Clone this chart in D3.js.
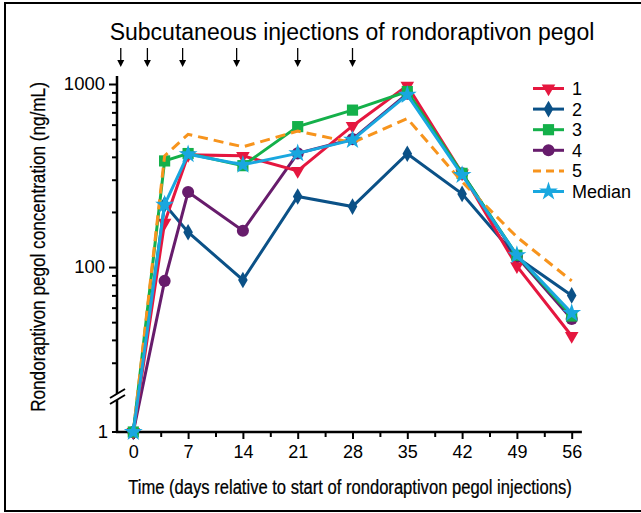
<!DOCTYPE html>
<html>
<head>
<meta charset="utf-8">
<script src="https://cdn.jsdelivr.net/npm/d3@7"></script>
<style>
  body { margin: 0; background: #fff; }
  svg { display: block; }
  .tick text { font-family: "Liberation Sans", Arial, sans-serif; }
</style>
</head>
<body>
<script>
// days of sampling
const days = [0, 4, 7, 14, 21, 28, 35, 42, 49, 56];

// rondoraptivon pegol concentration (ng/mL) per patient
const patient1 = [1, 175, 410, 405, 335, 590, 980, 325, 101, 42];
const patient2 = [1, 220, 155, 85, 243, 214, 416, 251, 113, 70];
const patient3 = [1, 380, 417, 358, 585, 720, 910, 325, 116, 54];
const patient4 = [1, 84, 257, 158, 418, 500, 885, 325, 114, 52];
const patient5 = [1, 405, 531, 454, 553, 478, 648, 292, 146, 84];
const median = [1, 219, 413, 362, 418, 495, 872, 318, 116, 56];

const seriesNames = ["1", "2", "3", "4", "5", "Median"];
const xTicks = [0, 7, 14, 21, 28, 35, 42, 49, 56];
const xMinorTicks = [3.5, 10.5, 17.5, 24.5, 31.5, 38.5, 45.5, 52.5];
const yMajorTicks = [100, 1000];
const yMinorTicks = [30, 40, 50, 60, 70, 80, 90, 200, 300, 400, 500, 600, 700, 800, 900];
const arrowDays = [-1.6, 1.8, 6.3, 13.2, 21, 28];

const width = 641;
const height = 513;

const series = [
  { name: "2", values: patient2, color: "#0b5187", symbol: d3.symbolDiamond, size: 80, rotate: 0, dash: null },
  { name: "4", values: patient4, color: "#671c6c", symbol: d3.symbolCircle, size: 115, rotate: 0, dash: null },
  { name: "1", values: patient1, color: "#e5173f", symbol: d3.symbolTriangle, size: 80, rotate: 180, dash: null },
  { name: "3", values: patient3, color: "#14b04a", symbol: d3.symbolSquare, size: 125, rotate: 0, dash: null },
  { name: "5", values: patient5, color: "#f7941d", symbol: null, size: 0, rotate: 0, dash: "10,6" },
  { name: "Median", values: median, color: "#19a7df", symbol: d3.symbolStar, size: 110, rotate: 0, dash: null },
];

const svg = d3
  .select("body")
  .append("svg")
  .attr("width", width)
  .attr("height", height);

// outer frame
svg
  .append("rect")
  .attr("x", 5)
  .attr("y", 3)
  .attr("width", 660)
  .attr("height", 508)
  .attr("fill", "none")
  .attr("stroke", "#000")
  .attr("stroke-width", 2);

const x = d3.scaleLinear().domain([0, 56]).range([133.3, 571.7]);
const yLog = d3.scaleLog().domain([19.5, 1120]).range([397, 75]);
const yZero = 432;
const y = (v) => (v <= 1 ? yZero : yLog(v));

const axisX = 117;

// title + injection arrows
svg
  .append("text")
  .attr("x", 352)
  .attr("y", 40)
  .attr("text-anchor", "middle")
  .attr("font-family", "Liberation Sans, Arial, sans-serif")
  .attr("font-size", 23)
  .text("Subcutaneous injections of rondoraptivon pegol");

const arrows = svg.append("g");
arrowDays.forEach((d) => {
  arrows
    .append("line")
    .attr("x1", x(d))
    .attr("x2", x(d))
    .attr("y1", 48)
    .attr("y2", 62)
    .attr("stroke", "#000")
    .attr("stroke-width", 1.3);
  arrows
    .append("path")
    .attr("d", `M${x(d) - 3.5},${60} L${x(d) + 3.5},${60} L${x(d)},${67} Z`)
    .attr("fill", "#000");
});

// y axis
const ga = svg.append("g");
ga.append("line")
  .attr("x1", axisX)
  .attr("x2", axisX)
  .attr("y1", 76)
  .attr("y2", yZero + 1)
  .attr("stroke", "#000")
  .attr("stroke-width", 2.5);

ga.append("g")
  .attr("transform", `translate(${axisX},0)`)
  .call(d3.axisLeft(yLog).tickValues(yMajorTicks).tickFormat(d3.format("d")).tickSize(8).tickPadding(4))
  .call((g) => g.select(".domain").remove())
  .call((g) => g.selectAll(".tick line").attr("stroke-width", 2))
  .call((g) => g.selectAll(".tick text").attr("font-size", 18.5).attr("fill", "#000"));

ga.append("g")
  .attr("transform", `translate(${axisX},0)`)
  .call(d3.axisLeft(yLog).tickValues(yMinorTicks).tickFormat("").tickSize(5))
  .call((g) => g.select(".domain").remove())
  .call((g) => g.selectAll(".tick line").attr("stroke-width", 2));

// the "1" tick below the break
ga.append("line")
  .attr("x1", axisX - 5)
  .attr("x2", axisX)
  .attr("y1", yZero)
  .attr("y2", yZero)
  .attr("stroke", "#000")
  .attr("stroke-width", 2);
ga.append("text")
  .attr("x", axisX - 9)
  .attr("y", yZero)
  .attr("dy", "0.35em")
  .attr("text-anchor", "end")
  .attr("font-family", "Liberation Sans, Arial, sans-serif")
  .attr("font-size", 18.5)
  .text("1");

// axis break
ga.append("path")
  .attr("d", `M${axisX - 6},${398} L${axisX + 7},${390} L${axisX + 7},${396} L${axisX - 6},${404} Z`)
  .attr("fill", "#fff");
[398, 404].forEach((b) => {
  ga.append("line")
    .attr("x1", axisX - 7)
    .attr("y1", b)
    .attr("x2", axisX + 8)
    .attr("y2", b - 9)
    .attr("stroke", "#000")
    .attr("stroke-width", 2);
});

// x axis
const gx = svg.append("g");
gx.append("line")
  .attr("x1", axisX - 1)
  .attr("x2", x(57.3))
  .attr("y1", yZero)
  .attr("y2", yZero)
  .attr("stroke", "#000")
  .attr("stroke-width", 2.5);

gx.append("g")
  .attr("transform", `translate(0,${yZero})`)
  .call(d3.axisBottom(x).tickValues(xTicks).tickSize(7).tickPadding(6))
  .call((g) => g.select(".domain").remove())
  .call((g) => g.selectAll(".tick line").attr("stroke-width", 2))
  .call((g) => g.selectAll(".tick text").attr("font-size", 18).attr("fill", "#000"));

gx.append("g")
  .attr("transform", `translate(0,${yZero})`)
  .call(d3.axisBottom(x).tickValues(xMinorTicks).tickFormat("").tickSize(5))
  .call((g) => g.select(".domain").remove())
  .call((g) => g.selectAll(".tick line").attr("stroke-width", 2));

// axis titles: condensed face imitated by squeezing the text horizontally
const condensed = (cx, cy, angle, len, label) => {
  const t = svg
    .append("text")
    .attr("text-anchor", "middle")
    .attr("font-family", "Liberation Sans, Arial, sans-serif")
    .attr("font-size", 21)
    .attr("stroke", "#000")
    .attr("stroke-width", 0.25)
    .text(label);
  const k = len / t.node().getComputedTextLength();
  t.attr("transform", `translate(${cx},${cy}) rotate(${angle}) scale(${k},1)`);
};
condensed(350, 494, 0, 444, "Time (days relative to start of rondoraptivon pegol injections)");
condensed(45, 247, -90, 330, "Rondoraptivon pegol concentration (ng/mL)");

// data
const line = d3
  .line()
  .x((d) => x(d.day))
  .y((d) => y(d.value));

const plot = svg.append("g");
series.forEach((s) => {
  const pts = days.map((day, i) => ({ day: day, value: s.values[i] }));
  plot
    .append("path")
    .datum(pts)
    .attr("d", line)
    .attr("fill", "none")
    .attr("stroke", s.color)
    .attr("stroke-width", 3)
    .attr("stroke-dasharray", s.dash);
  if (s.symbol) {
    plot
      .selectAll(null)
      .data(pts)
      .enter()
      .append("path")
      .attr("d", d3.symbol().type(s.symbol).size(s.size))
      .attr("transform", (d) => `translate(${x(d.day)},${y(d.value)}) rotate(${s.rotate})`)
      .attr("fill", s.color);
  }
});

// legend
const legend = svg.append("g");
const legendOrder = ["1", "2", "3", "4", "5", "Median"];
legendOrder.forEach((name, i) => {
  const s = series.find((d) => d.name === name);
  const ly = 88.5 + i * 20.6;
  legend
    .append("line")
    .attr("x1", 533)
    .attr("x2", 564)
    .attr("y1", ly)
    .attr("y2", ly)
    .attr("stroke", s.color)
    .attr("stroke-width", 3)
    .attr("stroke-dasharray", s.dash ? "8,5" : null);
  if (s.symbol) {
    legend
      .append("path")
      .attr("d", d3.symbol().type(s.symbol).size(s.size))
      .attr("transform", `translate(548.5,${ly}) rotate(${s.rotate})`)
      .attr("fill", s.color);
  }
  legend
    .append("text")
    .attr("x", 572)
    .attr("y", ly)
    .attr("dy", "0.36em")
    .attr("font-family", "Liberation Sans, Arial, sans-serif")
    .attr("font-size", 18)
    .text(seriesNames[legendOrder.indexOf(name)]);
});
</script>
</body>
</html>
